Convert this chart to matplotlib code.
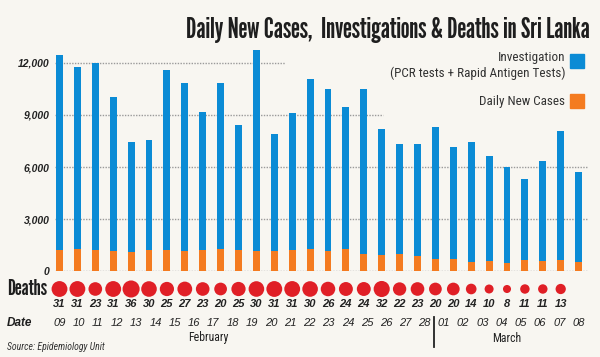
import matplotlib.pyplot as plt
import numpy as np
from matplotlib.patches import Rectangle
from matplotlib import transforms

# values read from the infographic
investigations = [12460, 11790, 12020, 10020, 7450, 7580, 11580, 10830, 9190, 10850,
                  8440, 12750, 7910, 9100, 11080, 10500, 9450, 10500, 8200, 7330,
                  7330, 8330, 7160, 7450, 6660, 5990, 5330, 6350, 8060, 5740]
new_cases = [1245, 1285, 1245, 1150, 1130, 1210, 1230, 1190, 1220, 1270,
             1245, 1190, 1170, 1230, 1270, 1170, 1270, 980, 950, 980,
             880, 710, 710, 555, 610, 490, 640, 600, 650, 545]
deaths = [31, 31, 23, 31, 36, 30, 25, 27, 23, 20, 25, 30, 31, 31, 30,
          26, 24, 24, 32, 22, 23, 20, 20, 14, 10, 8, 11, 11, 13]
dates = ['09', '10', '11', '12', '13', '14', '15', '16', '17', '18', '19', '20',
         '21', '22', '23', '24', '25', '26', '27', '28',
         '01', '02', '03', '04', '05', '06', '07', '08']
yticks = [0, 3000, 6000, 9000, 12000]
ytick_labels = ['0', '3,000', '6,000', '9,000', '12,000']

bg = '#f8f6f1'
blue = '#0b8bd5'
orange = '#f47b20'
red = '#e01f26'
gothic = ['League Gothic', 'Oswald', 'DejaVu Sans']
narrow = ['Roboto Condensed', 'Archivo Narrow', 'DejaVu Sans']
sans = ['Liberation Sans', 'DejaVu Sans']

W, H = 600, 357
fig = plt.figure(figsize=(W / 100, H / 100), dpi=100, facecolor=bg)
renderer = fig.canvas.get_renderer()

def fit_width(t, target):
    # scale a text's font size so it spans the wanted pixel width
    w = t.get_window_extent(renderer).width
    t.set_fontsize(t.get_fontsize() * target / w)

# axes: bar i sits at 59.5 + 17.9*i pixels
step = 17.9
def px2x(p):
    return (p - 59.5) / step

ax_left, ax_right, ax_top, ax_bot = 55, 592, 40, 271.3
ax = fig.add_axes([ax_left / W, 1 - ax_bot / H, (ax_right - ax_left) / W, (ax_bot - ax_top) / H])
ax.set_facecolor(bg)
ax.set_xlim(px2x(ax_left), px2x(ax_right))
ax.set_ylim(0, (ax_bot - ax_top) * 3000 / 52.1)
for s in ax.spines.values():
    s.set_visible(False)
ax.set_xticks([])
ax.set_yticks(yticks)
ax.set_yticklabels(ytick_labels, family=sans, fontweight='bold', style='italic',
                   fontsize=7.5, color='#222222')
ax.tick_params(axis='y', length=0, pad=4)

# dotted gridlines, shorter at the top where the legend sits
grid_end = [px2x(587), px2x(587), px2x(587), px2x(383), px2x(285)]
for yv, xe in zip(yticks, grid_end):
    ax.hlines(yv, px2x(ax_left), xe, colors='#9a9a9a', linestyles=(0, (1, 1)),
              linewidth=1, zorder=1)

x = np.arange(len(investigations))
ax.bar(x, investigations, width=0.39, color=blue, zorder=2)
ax.bar(x, new_cases, width=0.39, color=orange, zorder=3)

# title
title = fig.text(590 / W, 1 - 30 / H, 'Daily New Cases,  Investigations & Deaths in Sri Lanka',
                 ha='right', va='center', family=gothic, fontsize=20, color='#1e1e1e')
fit_width(title, 402)

# legend
def box(px, py, color):
    fig.add_artist(Rectangle((px / W, 1 - (py + 14) / H), 14 / W, 14 / H,
                             transform=fig.transFigure, color=color))

box(570, 54, blue)
box(570, 94, orange)
fig.text(565 / W, 1 - 58 / H, 'Investigation', ha='right', va='center',
         family=narrow, fontsize=9.5, color='#333333')
leg2 = fig.text(565 / W, 1 - 73 / H, '(PCR tests + Rapid Antigen Tests)', ha='right',
                va='center', family=narrow, fontsize=9.5, color='#333333')
fit_width(leg2, 176)
fig.text(565 / W, 1 - 101 / H, 'Daily New Cases', ha='right', va='center',
         family=narrow, fontsize=leg2.get_fontsize(), color='#333333')

# deaths row
tr = transforms.blended_transform_factory(ax.transData, fig.transFigure)
dx = np.arange(len(deaths))
ax.scatter(dx, np.full(len(deaths), 1 - 289 / H), s=np.array(deaths) * 4.2, color=red,
           transform=tr, clip_on=False, zorder=4, linewidths=0)
for xi, d in zip(dx, deaths):
    ax.text(xi, 1 - 304 / H, str(d), transform=tr, ha='center', va='center',
            family=sans, fontweight='bold', style='italic', fontsize=8, color='#222222')
dl = fig.text(7 / W, 1 - 289 / H, 'Deaths', ha='left', va='center', family=gothic,
              fontsize=16, color='#1e1e1e')
fit_width(dl, 40)

# date row (spread a little wider than the bars)
date_x = np.linspace(0, 29, len(dates))
for xi, d in zip(date_x, dates):
    ax.text(xi, 1 - 323 / H, d, transform=tr, ha='center', va='center',
            family=sans, style='italic', fontsize=8, color='#222222')
fig.text(7 / W, 1 - 323 / H, 'Date', ha='left', va='center', family=sans,
         fontweight='bold', style='italic', fontsize=8.5, color='#1e1e1e')

split = (date_x[19] + date_x[20]) / 2
ax.plot([split, split], [1 - 317 / H, 1 - 347 / H], transform=tr, color='#222222',
        linewidth=1.3, clip_on=False)
ax.text(px2x(208), 1 - 338 / H, 'February', transform=tr, ha='center', va='center',
        family=narrow, fontsize=8.5, color='#222222')
ax.text(px2x(507), 1 - 338 / H, 'March', transform=tr, ha='center', va='center',
        family=narrow, fontsize=8.5, color='#222222')

fig.text(7 / W, 1 - 347 / H, 'Source: Epidemiology Unit', ha='left', va='center',
         family=narrow, style='italic', fontsize=7, color='#333333')

fig.savefig('out.png', dpi=100, facecolor=bg)
